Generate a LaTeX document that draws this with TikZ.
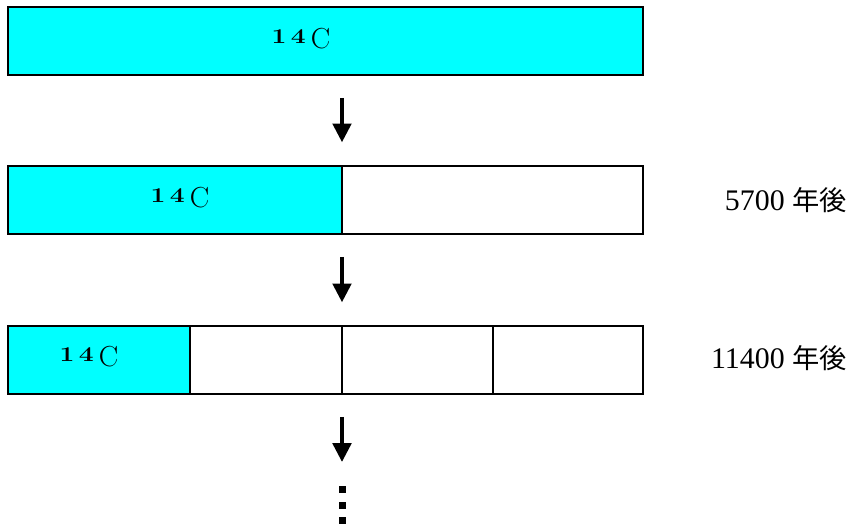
\documentclass[tikz,border=0pt]{standalone}
\usepackage{fontspec}
\usepackage{graphicx}
\newfontfamily\jpfont{Noto Sans CJK JP}
\newfontfamily\numfont{Liberation Serif}
\usetikzlibrary{calc, arrows.meta, positioning}
\usepackage{xcolor}
\definecolor{isocyan}{RGB}{0,255,255}

\newcommand{\carbon}{\raisebox{3.2pt}{\scalebox{1.25}[1]{\fontsize{12}{13}\selectfont\bfseries 1\kern2pt 4}}\kern3pt{\fontsize{16.5}{18}\selectfont C}}

\begin{document}
\begin{tikzpicture}[x=0.02cm, y=-0.02cm, >={Triangle[width=0.36cm, length=0.38cm]}]
				\tikzstyle{cell} = [draw=black, line width=1.5pt, rectangle, anchor=north west, inner sep=0pt, outer sep=0pt, minimum height=1.36cm]
				\tikzstyle{full} = [cell, fill=isocyan]
				\tikzstyle{invis} = [draw=none, font=\fontsize{16}{18}\selectfont]
				\tikzstyle{years} = [draw=none, anchor=east, inner xsep=0pt, font=\fontsize{17}{18}\selectfont\numfont]
				\tikzstyle{dot} = [fill=black, rectangle, inner sep=0pt, minimum size=0.14cm]
				\tikzstyle{down} = [->, line width=2.8pt, shorten <=0.46cm, shorten >=0.47cm]
				
				\useasboundingbox (0,0) rectangle (853,531);
				
				\node[full, minimum width=12.7cm]		at (8, 7)		(b1)	{};
				\node[full, minimum width=6.68cm]		at (8, 166)		(b21)	{};
				\node[cell, minimum width=6.02cm]		at (342, 166)	(b22)	{};
				\node[full, minimum width=3.64cm]		at (8, 326)		(b31)	{};
				\node[cell, minimum width=3.04cm]		at (190, 326)	(b32)	{};
				\node[cell, minimum width=3.02cm]		at (342, 326)	(b33)	{};
				\node[cell, minimum width=3.0cm]		at (493, 326)	(b34)	{};
				
				\node[invis]	at (301, 39)	(c1)	{\carbon};
				\node[invis]	at (180, 198)	(c2)	{\carbon};
				\node[invis]	at (89, 357)	(c3)	{\carbon};
				
				\node[years]	at (847, 200)	(t1)	{5700 {\jpfont\fontsize{15.5}{18}\selectfont 年後}};
				\node[years]	at (847, 358)	(t2)	{11400 {\jpfont\fontsize{15.5}{18}\selectfont 年後}};
				
				\node[dot]	at (342, 489.5)	(d1)	{};
				\node[dot]	at (342, 505)	(d2)	{};
				\node[dot]	at (342, 520.5)	(d3)	{};
				
				\draw[down]	(b1.south -| b22.north west)	--	(b22.north west);
				\draw[down]	(b22.south west)	--	(b33.north west);
				\draw[down]	(b33.south west)	--	(d1.north);
			\end{tikzpicture}
\end{document}
